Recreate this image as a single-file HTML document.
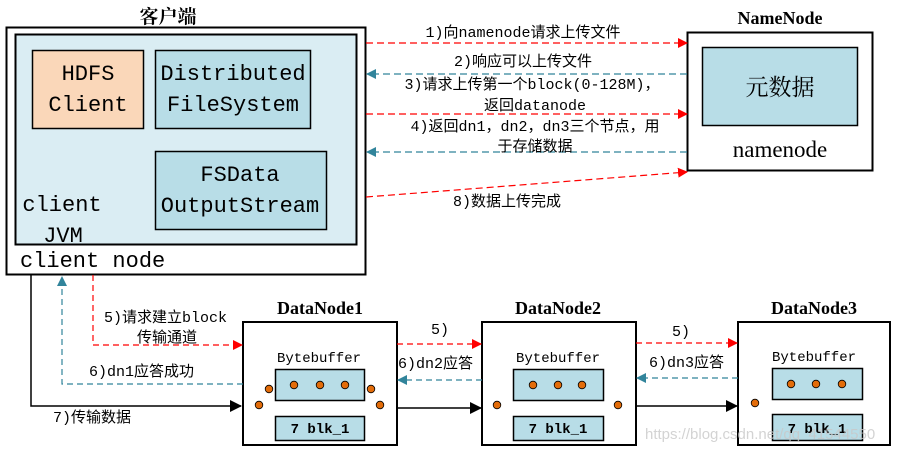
<!DOCTYPE html>
<html><head><meta charset="utf-8"><style>
html,body{margin:0;padding:0;background:#fff;}
svg{display:block;}
.m{font-family:"Liberation Mono","Noto Sans CJK SC",monospace;}
.s{font-family:"Liberation Serif","Noto Serif CJK SC",serif;}
</style></head><body>
<svg width="898" height="452" viewBox="0 0 898 452" xmlns="http://www.w3.org/2000/svg">
<defs>
<marker id="ar" markerWidth="10" markerHeight="10" refX="9" refY="5" orient="auto" markerUnits="userSpaceOnUse"><path d="M0,0 L10,5 L0,10 z" fill="#ff0000"/></marker>
<marker id="at" markerWidth="10" markerHeight="10" refX="9" refY="5" orient="auto" markerUnits="userSpaceOnUse"><path d="M0,0 L10,5 L0,10 z" fill="#31849b"/></marker>
<marker id="ak" markerWidth="12" markerHeight="12" refX="11" refY="6" orient="auto" markerUnits="userSpaceOnUse"><path d="M0,0 L12,6 L0,12 z" fill="#000"/></marker>
</defs>
<!-- client -->
<text x="168" y="23" class="s" font-size="19" font-weight="bold" text-anchor="middle">客户端</text>
<rect x="6.5" y="27.5" width="359" height="247" fill="#fff" stroke="#000" stroke-width="2"/>
<rect x="15.5" y="34.5" width="341" height="210" fill="#daedf3" stroke="#000" stroke-width="2"/>
<rect x="32.5" y="50.5" width="111" height="78" fill="#fad7b9" stroke="#000" stroke-width="1.5"/>
<rect x="155.5" y="50.5" width="155" height="78" fill="#b8dde7" stroke="#000" stroke-width="1.5"/>
<rect x="155.5" y="151.5" width="171" height="78" fill="#b8dde7" stroke="#000" stroke-width="1.5"/>
<g class="m" font-size="22" text-anchor="middle" fill="#000">
<text x="88" y="80">HDFS</text><text x="88" y="111">Client</text>
<text x="233" y="80">Distributed</text><text x="233" y="111">FileSystem</text>
<text x="240" y="181">FSData</text><text x="240" y="212">OutputStream</text>
<text x="62" y="211">client</text><text x="63" y="242">JVM</text>
</g>
<text x="20" y="267" class="m" font-size="22">client node</text>
<!-- namenode -->
<text x="780" y="24" class="s" font-size="18" font-weight="bold" text-anchor="middle">NameNode</text>
<rect x="687.5" y="32.5" width="185" height="138" fill="#fff" stroke="#000" stroke-width="2"/>
<rect x="702.5" y="47.5" width="155" height="78" fill="#b8dde7" stroke="#000" stroke-width="1.5"/>
<text x="780" y="95" class="s" font-size="23" text-anchor="middle">元数据</text>
<text x="780" y="157" class="s" font-size="23" text-anchor="middle">namenode</text>
<!-- arrows client-namenode -->
<g stroke-width="1.2" stroke-dasharray="7,4" fill="none">
<line x1="366" y1="43" x2="687" y2="43" stroke="#ff0000" marker-end="url(#ar)"/>
<line x1="687" y1="74" x2="367" y2="74" stroke="#31849b" marker-end="url(#at)"/>
<line x1="366" y1="114" x2="687" y2="114" stroke="#ff0000" marker-end="url(#ar)"/>
<line x1="687" y1="152" x2="367" y2="152" stroke="#31849b" marker-end="url(#at)"/>
<line x1="366" y1="197" x2="687" y2="172" stroke="#ff0000" marker-end="url(#ar)"/>
</g>
<g class="m" font-size="15" text-anchor="middle" fill="#000">
<text x="523" y="37">1)向namenode请求上传文件</text>
<text x="523" y="66">2)响应可以上传文件</text>
<text x="532" y="89">3)请求上传第一个block(0-128M)，</text>
<text x="535" y="110">返回datanode</text>
<text x="535" y="131">4)返回dn1，dn2，dn3三个节点，用</text>
<text x="535" y="151">于存储数据</text>
<text x="507" y="206">8)数据上传完成</text>
</g>
<!-- datanodes -->
<g class="s" font-size="18" font-weight="bold" text-anchor="middle">
<text x="320" y="314">DataNode1</text>
<text x="558" y="314">DataNode2</text>
<text x="814" y="314">DataNode3</text>
</g>
<g fill="#fff" stroke="#000" stroke-width="2">
<rect x="243" y="322" width="154" height="123"/>
<rect x="482" y="322" width="154" height="123"/>
<rect x="738" y="322" width="152" height="123"/>
</g>
<g fill="#b8dde7" stroke="#000" stroke-width="1.5">
<rect x="275.5" y="369.5" width="89" height="31"/><rect x="275.5" y="416.5" width="89" height="24"/>
<rect x="513.5" y="369.5" width="90" height="31"/><rect x="513.5" y="416.5" width="90" height="24"/>
<rect x="772.5" y="368.5" width="90" height="31"/><rect x="772.5" y="414.5" width="90" height="26"/>
</g>
<g class="m" font-size="14" text-anchor="middle">
<text x="319" y="362">Bytebuffer</text><text x="558" y="362">Bytebuffer</text><text x="814" y="361">Bytebuffer</text>
</g>
<g class="m" font-size="14" font-weight="bold" text-anchor="middle">
<text x="320" y="433">7 blk_1</text><text x="558" y="433">7 blk_1</text><text x="817" y="433">7 blk_1</text>
</g>
<g fill="#e36c09" stroke="#000" stroke-width="0.8">
<circle cx="294" cy="385" r="3.8"/><circle cx="320" cy="385" r="3.8"/><circle cx="345" cy="385" r="3.8"/>
<circle cx="269" cy="389" r="3.8"/><circle cx="259" cy="405" r="3.8"/><circle cx="371" cy="389" r="3.8"/><circle cx="380" cy="405" r="3.8"/>
<circle cx="533" cy="385" r="3.8"/><circle cx="558" cy="385" r="3.8"/><circle cx="582" cy="385" r="3.8"/>
<circle cx="497" cy="405" r="3.8"/><circle cx="618" cy="405" r="3.8"/>
<circle cx="791" cy="384" r="3.8"/><circle cx="816" cy="384" r="3.8"/><circle cx="842" cy="384" r="3.8"/>
<circle cx="755" cy="403" r="3.8"/>
</g>
<!-- left connectors -->
<polyline points="31,275 31,406 241,406" fill="none" stroke="#000" stroke-width="1.5" marker-end="url(#ak)"/>
<polyline points="243,384 62,384 62,277" fill="none" stroke="#31849b" stroke-width="1.2" stroke-dasharray="6,4" marker-end="url(#at)"/>
<polyline points="93,275 93,345 242,345" fill="none" stroke="#ff0000" stroke-width="1.2" stroke-dasharray="6,4" marker-end="url(#ar)"/>
<g stroke-width="1.2" stroke-dasharray="6,4" fill="none">
<line x1="397" y1="344" x2="481" y2="344" stroke="#ff0000" marker-end="url(#ar)"/>
<line x1="482" y1="380" x2="398" y2="380" stroke="#31849b" marker-end="url(#at)"/>
<line x1="636" y1="343" x2="737" y2="343" stroke="#ff0000" marker-end="url(#ar)"/>
<line x1="738" y1="378" x2="637" y2="378" stroke="#31849b" marker-end="url(#at)"/>
</g>
<line x1="397" y1="408" x2="481" y2="408" stroke="#000" stroke-width="1.5" marker-end="url(#ak)"/>
<line x1="636" y1="406" x2="737" y2="406" stroke="#000" stroke-width="1.5" marker-end="url(#ak)"/>
<g class="m" font-size="15" fill="#000">
<text x="104" y="322">5)请求建立block</text>
<text x="137" y="342">传输通道</text>
<text x="89" y="376">6)dn1应答成功</text>
<text x="53" y="422">7)传输数据</text>
<text x="431" y="334">5)</text>
<text x="398" y="368">6)dn2应答</text>
<text x="672" y="336">5)</text>
<text x="649" y="367">6)dn3应答</text>
</g>
<text x="645" y="439" font-family="Liberation Sans, sans-serif" font-size="15" fill="#c8c8c8" fill-opacity="0.8">https://blog.csdn.net/qq_41544550</text>
</svg>
</body></html>
